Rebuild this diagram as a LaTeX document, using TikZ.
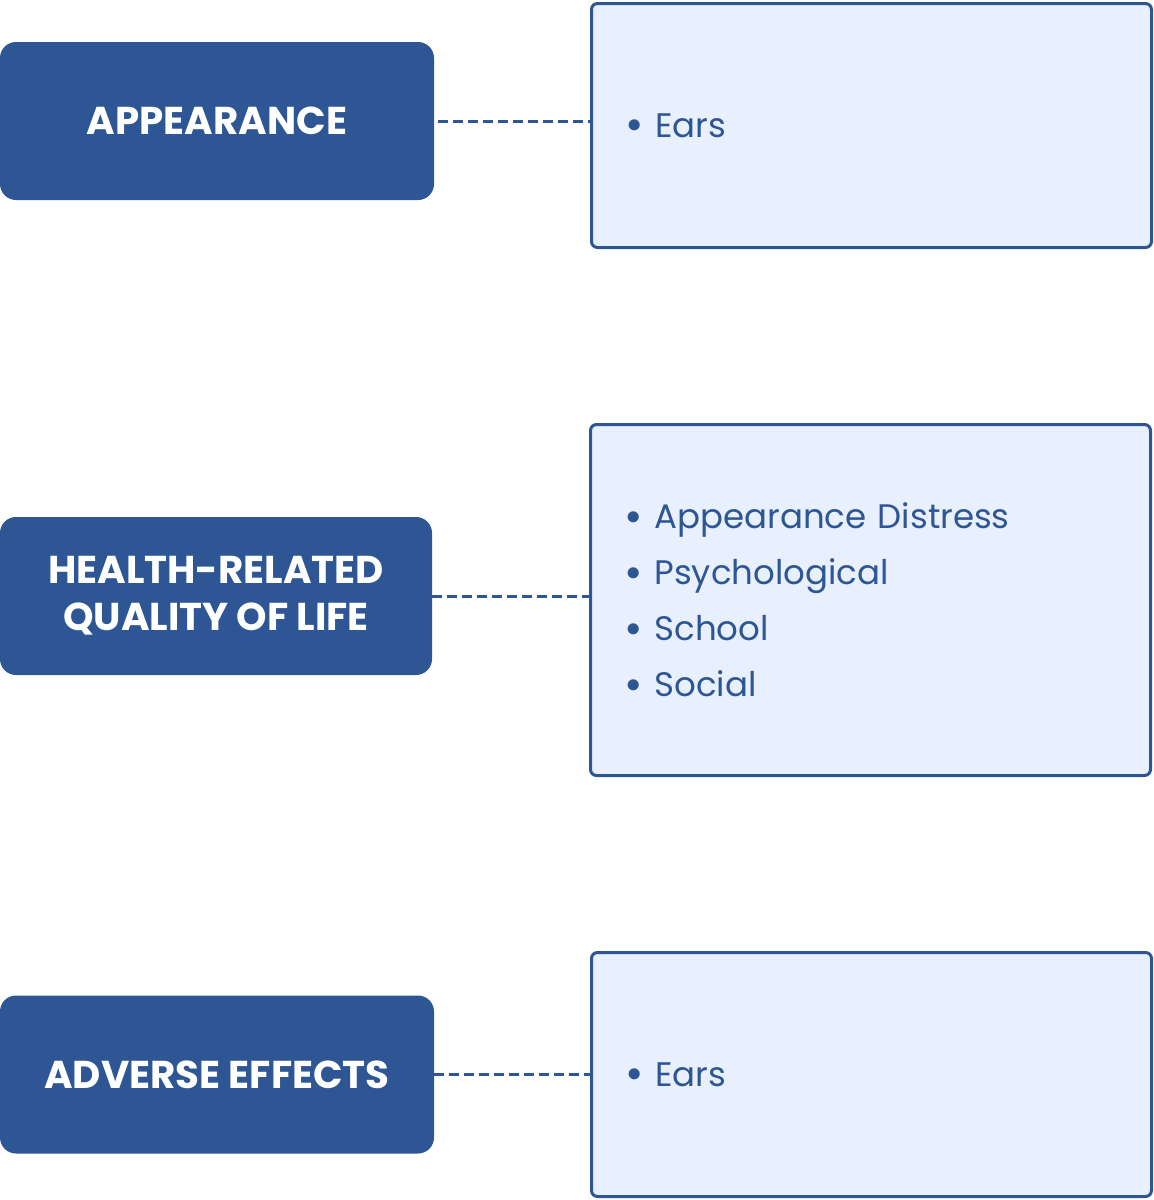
\documentclass[tikz,border=0pt]{standalone}
\usepackage{fontspec}
\setmainfont{Poppins}
\usetikzlibrary{positioning}

\definecolor{navy}{HTML}{2E5594}
\definecolor{paleblue}{HTML}{E8F0FE}

\newcommand{\itm}{\makebox[14pt][l]{\raisebox{2.2pt}{\fontsize{14}{14}\selectfont$\bullet$}}}

\tikzset{
  topic/.style={fill=navy, rounded corners=8pt, minimum width=217pt,
    minimum height=79pt, text=white, align=center,
    font=\fontsize{19.4}{23.5}\selectfont\bfseries},
  detail/.style={draw=navy, line width=1.5pt, fill=paleblue,
    rounded corners=3pt, minimum width=280pt, text width=244pt,
    inner xsep=18pt, align=left, text=navy,
    font=\fontsize{17}{28}\selectfont},
  link/.style={navy, line width=1.5pt, dash pattern=on 5pt off 2.5pt}
}

\begin{document}
\begin{tikzpicture}[x=0.5pt,y=-0.5pt]
    \useasboundingbox (0,0) rectangle (1154,1200);
    % topics on the left
    \node[topic] (look) at (217,121) {APPEARANCE};
    \node[topic, minimum width=216pt] (hrql) at (216,596) {HEALTH-RELATED\\QUALITY OF LIFE};
    \node[topic] (harm) at (217,1074.5) {ADVERSE EFFECTS};
    % outcome boxes on the right
    \node[detail, minimum height=122pt] (lookbox) at (871.5,125.5) {\itm Ears};
    \node[detail, minimum height=175.5pt] (hrqlbox) at (870.5,600)
      {\itm Appearance Distress\\\itm Psychological\\\itm School\\\itm Social};
    \node[detail, minimum height=122pt] (harmbox) at (871.5,1074.5) {\itm Ears};
    % dashed links
    \draw[link] ([xshift=2pt]look.east) -- (look.east -| lookbox.west);
    \draw[link] (hrql.east) -- (hrql.east -| hrqlbox.west);
    \draw[link] (harm.east) -- (harm.east -| harmbox.west);
\end{tikzpicture}
\end{document}
